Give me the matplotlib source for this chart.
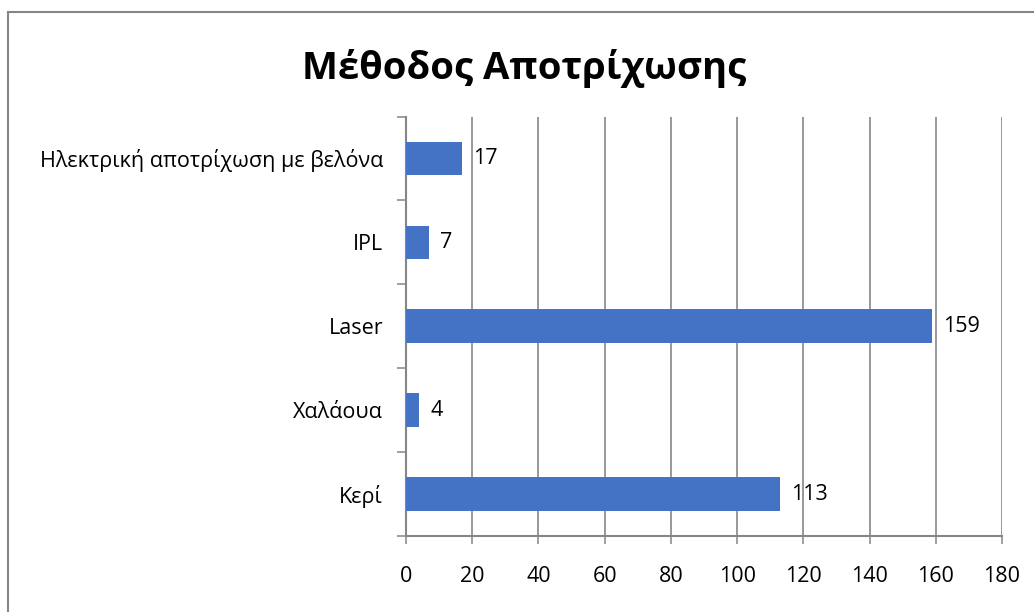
import matplotlib
matplotlib.use("Agg")
import matplotlib.pyplot as plt
from matplotlib.patches import Rectangle

categories = ["Κερί", "Χαλάουα", "Laser", "IPL", "Ηλεκτρική αποτρίχωση με βελόνα"]
values = [113, 4, 159, 7, 17]
xticks = [0, 20, 40, 60, 80, 100, 120, 140, 160, 180]
title = "Μέθοδος Αποτρίχωσης"

plt.rcParams['font.family'] = ['Open Sans', 'DejaVu Sans']

W, H = 1034, 612
fig = plt.figure(figsize=(W/100, H/100), dpi=100)
ax = fig.add_axes([406/W, 1-536/H, (1002-406)/W, (536-116.5)/H])

grid_c = "#868686"
bar_c = "#4472C4"
fs = 15.5

y = list(range(len(categories)))
ax.barh(y, values, height=0.4, color=bar_c, zorder=3)
for yi, v in zip(y, values):
    ax.text(v + 3.3, yi, str(v), va="center", ha="left", fontsize=fs, color="black", zorder=4)

ax.set_xlim(0, 180)
ax.set_ylim(-0.5, len(categories) - 0.5)
ax.set_xticks(xticks)
ax.set_xticklabels([str(t) for t in xticks], fontsize=fs)
ax.set_yticks([i - 0.5 for i in range(len(categories) + 1)], minor=False)
ax.set_yticklabels([])
ax.set_yticks(y, minor=True)
ax.set_yticklabels(categories, minor=True, fontsize=fs)
ax.tick_params(axis="y", which="minor", length=0, pad=16.5)
ax.tick_params(axis="y", which="major", length=6.5, width=1.1, color=grid_c, direction="out")
ax.tick_params(axis="x", length=5.8, width=1.1, color=grid_c, direction="out", pad=16)
ax.xaxis.grid(True, color=grid_c, linewidth=1.2, zorder=0)
ax.set_axisbelow(True)
for s in ["top", "right"]:
    ax.spines[s].set_visible(False)
for s in ["left", "bottom"]:
    ax.spines[s].set_color(grid_c)
    ax.spines[s].set_linewidth(1.5)

fig.text(524/W, 1-68/H, title, ha="center", va="center", fontsize=27.5, fontweight="bold")

fig.patches.append(Rectangle((7.5/W, -0.1), 1.2, 1-11.5/H+0.1, transform=fig.transFigure,
                             fill=False, edgecolor=grid_c, linewidth=1.5))

fig.savefig("out.png", dpi=100)
